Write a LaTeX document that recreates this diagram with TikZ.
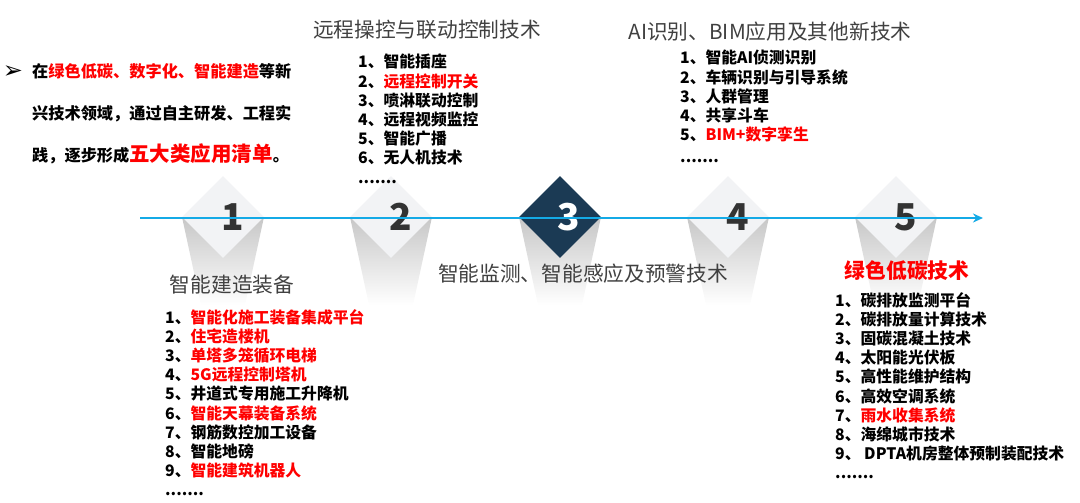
\documentclass[tikz,border=0pt]{standalone}
\usepackage{fontspec}
\setmainfont{Noto Sans CJK SC}
\newfontfamily\symfont{DejaVu Sans}
\usetikzlibrary{shapes.geometric, arrows.meta, positioning}
\definecolor{myred}{RGB}{255,0,0}
\definecolor{mydark}{RGB}{27,58,84}
\definecolor{mygray}{RGB}{64,64,64}
\definecolor{mynum}{RGB}{51,51,51}
\definecolor{mylight}{RGB}{242,243,245}
\definecolor{myblue}{RGB}{20,170,230}
\tikzset{
  lightdiamond/.style={diamond, fill=mylight, minimum width=82pt,
    minimum height=82pt, inner sep=0pt},
  darkdiamond/.style={lightdiamond, fill=mydark},
  numlabel/.style={font=\fontsize{37}{37}\selectfont\bfseries, text=mynum, inner sep=0pt},
  heading/.style={font=\fontsize{20.7}{24}\selectfont, text=mygray, inner sep=0pt},
  itemlist/.style={font=\fontsize{15.8}{19.2}\selectfont\bfseries, text=black,
    align=left, inner sep=0pt, anchor=north west},
  shadowfill/.style={top color=black!22, bottom color=white},
  axisarrow/.style={-{Stealth[length=10pt, width=9pt]}, line width=2.5pt, color=myblue}
}
\newcommand{\hl}[1]{\textcolor{myred}{#1}}

\begin{document}
\begin{tikzpicture}[x=1pt, y=-1pt]
  \useasboundingbox (0,0) rectangle (1080,503);

  % Shadows under the diamonds
  \foreach \cx in {223,391,560,728,896}
    \shade[shadowfill] (\cx-41,217) -- (\cx+41,217) -- (\cx+22,305) -- (\cx-22,305) -- cycle;

  % Diamonds
  \node[lightdiamond] (d1) at (223,217) {};
  \node[lightdiamond] (d2) at (391,217) {};
  \node[darkdiamond]  (d3) at (560,217) {};
  \node[lightdiamond] (d4) at (728,217) {};
  \node[lightdiamond] (d5) at (896,217) {};

  \node[numlabel, xshift=10pt] (n1) at (d1) {1};
  \node[numlabel, xshift=10pt] (n2) at (d2) {2};
  \node[numlabel, xshift=9pt, text=white] (n3) at (d3) {3};
  \node[numlabel, xshift=10pt] (n4) at (d4) {4};
  \node[numlabel, xshift=10pt] (n5) at (d5) {5};

  % Timeline
  \coordinate (axisstart) at (140,218);
  \coordinate (axisend) at (983,218);
  \draw[axisarrow] (axisstart) -- (axisend);

  % Intro text
  \node[inner sep=0pt, font=\symfont\fontsize{24}{24}\selectfont] (bullet) at (13,72) {➢};
  \node[inner sep=0pt, anchor=north west, align=left,
    font=\fontsize{16.2}{42}\selectfont\bfseries] (intro) at (32,63)
    {在\hl{绿色低碳、数字化、智能建造}等新\\
     兴技术领域，通过自主研发、工程实\\
     践，逐步形成\hl{\fontsize{20.5}{42}\selectfont 五大类应用清单}。};

  % Headings
  \node[heading] (h1) at (232,285) {智能建造装备};
  \node[heading] (h2) at (427,30) {远程操控与联动控制技术};
  \node[heading] (h3) at (583,274) {智能监测、智能感应及预警技术};
  \node[heading] (h4) at (770,32) {AI识别、BIM应用及其他新技术};
  \node[heading, font=\fontsize{20.7}{24}\selectfont\bfseries, text=myred] (h5) at (907,271) {绿色低碳技术};

  % Lists
  \node[itemlist] (l1) at (165,309) {%
    1、\hl{智能化施工装备集成平台}\\
    2、\hl{住宅造楼机}\\
    3、\hl{单塔多笼循环电梯}\\
    4、\hl{5G远程控制塔机}\\
    5、井道式专用施工升降机\\
    6、\hl{智能天幕装备系统}\\
    7、钢筋数控加工设备\\
    8、智能地磅\\
    9、\hl{智能建筑机器人}\\
    .......};
  \node[itemlist] (l2) at (358,54) {%
    1、智能插座\\
    2、\hl{远程控制开关}\\
    3、喷淋联动控制\\
    4、远程视频监控\\
    5、智能广播\\
    6、无人机技术\\
    .......};
  \node[itemlist] (l4) at (680,50) {%
    1、智能AI侦测识别\\
    2、车辆识别与引导系统\\
    3、人群管理\\
    4、共享斗车\\
    5、\hl{BIM+数字孪生}\\[3pt]
    .......};
  \node[itemlist] (l5) at (835,292) {%
    1、碳排放监测平台\\
    2、碳排放量计算技术\\
    3、固碳混凝土技术\\
    4、太阳能光伏板\\
    5、高性能维护结构\\
    6、高效空调系统\\
    7、\hl{雨水收集系统}\\
    8、海绵城市技术\\
    9、 DPTA机房整体预制装配技术\\
    .......};
\end{tikzpicture}
\end{document}
